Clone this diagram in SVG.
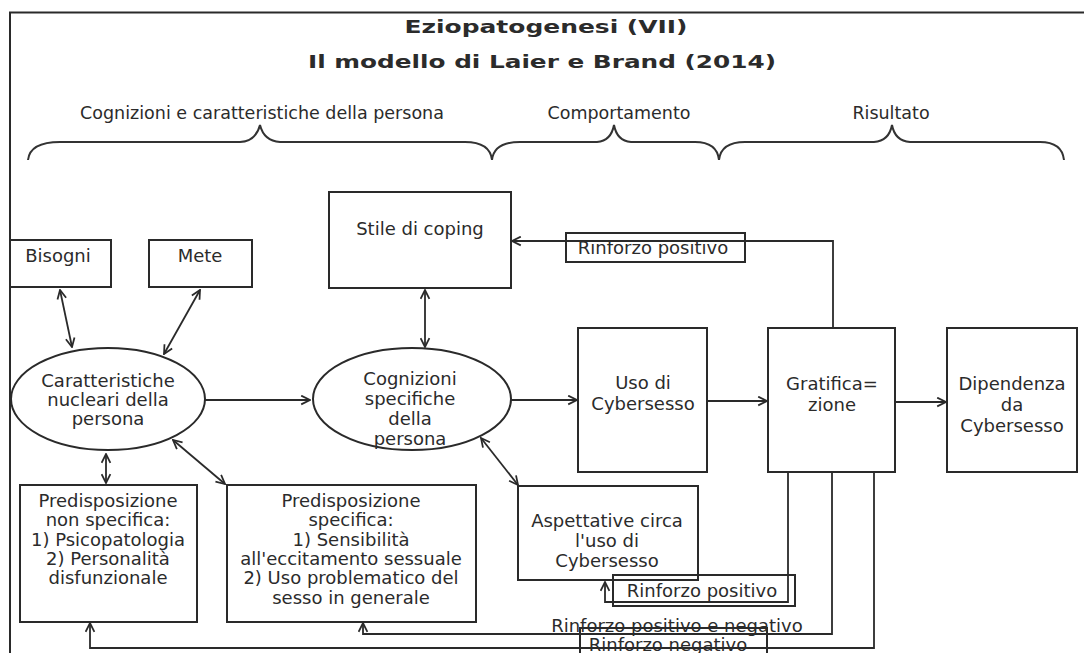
<svg xmlns="http://www.w3.org/2000/svg" width="1084" height="653" viewBox="0 0 1084 653">
<defs>
<style>
.t{font-family:"DejaVu Sans","Liberation Sans",sans-serif;fill:#2b2b2b;text-anchor:middle;font-size:18px}
.sec{font-size:17.5px}
.lab{font-size:18px}
.box{fill:#fff;stroke:#2a2a2a;stroke-width:2}
.lbox{fill:none;stroke:#2a2a2a;stroke-width:2}
.ln{fill:none;stroke:#2a2a2a;stroke-width:1.8}
.br{fill:none;stroke:#333;stroke-width:2}
</style>
<marker id="arr" viewBox="0 0 10 10" refX="9" refY="5" markerWidth="11" markerHeight="11" markerUnits="userSpaceOnUse" orient="auto-start-reverse">
<path d="M1,1 L9,5 L1,9" fill="none" stroke="#2a2a2a" stroke-width="1.6"/>
</marker>
</defs>
<rect width="1084" height="653" fill="#fff"/>
<g id="titles">
<text class="t" x="546" y="33" font-size="27" font-weight="bold" textLength="283" lengthAdjust="spacingAndGlyphs">Eziopatogenesi (VII)</text>
<text class="t" x="542" y="68" font-size="23" font-weight="bold" textLength="468" lengthAdjust="spacingAndGlyphs">Il modello di Laier e Brand (2014)</text>
<text class="t sec" x="262" y="119">Cognizioni e caratteristiche della persona</text>
<text class="t sec" x="619" y="119">Comportamento</text>
<text class="t sec" x="891" y="119">Risultato</text>
</g>
<g id="frame">
<rect x="0" y="0" width="1084" height="12" fill="#fff"/>
<path d="M1084,12.5 L10,12.5 L10,653" fill="none" stroke="#2a2a2a" stroke-width="2"/>
</g>
<g id="braces">
<path class="br" d="M28,160 Q30,142 60,142 L240,142 Q256,141 260,125 Q264,141 280,142 L465,142 Q490,142 492,160"/>
<path class="br" d="M492,160 Q494,142 520,142 L597,142 Q611,141 614,125 Q617,141 631,142 L695,142 Q717,142 719,160"/>
<path class="br" d="M719,160 Q721,142 745,142 L874,142 Q889,141 892,125 Q895,141 910,142 L1040,142 Q1062,142 1064,160"/>
</g>
<g id="connectors">
<line class="ln" x1="205" y1="400" x2="310" y2="400" marker-end="url(#arr)"/>
<line class="ln" x1="511" y1="400" x2="577" y2="400" marker-end="url(#arr)"/>
<line class="ln" x1="707" y1="401" x2="767" y2="401" marker-end="url(#arr)"/>
<line class="ln" x1="895" y1="402" x2="946" y2="402" marker-end="url(#arr)"/>
<line class="ln" x1="60" y1="290" x2="72" y2="347" marker-start="url(#arr)" marker-end="url(#arr)"/>
<line class="ln" x1="200" y1="290" x2="164" y2="354" marker-start="url(#arr)" marker-end="url(#arr)"/>
<line class="ln" x1="425" y1="290" x2="425" y2="347" marker-start="url(#arr)" marker-end="url(#arr)"/>
<line class="ln" x1="106" y1="454" x2="106" y2="483" stroke-width="3" marker-start="url(#arr)" marker-end="url(#arr)"/>
<line class="ln" x1="173" y1="440" x2="225" y2="484" marker-start="url(#arr)" marker-end="url(#arr)"/>
<line class="ln" x1="481" y1="438" x2="518" y2="485" marker-start="url(#arr)" marker-end="url(#arr)"/>
<path class="ln" d="M833,328 L833,241 L512,241" stroke-width="2.5" marker-end="url(#arr)"/>
<path class="ln" d="M788,472 L788,602 L605,602 L605,582" marker-end="url(#arr)"/>
<path class="ln" d="M832,472 L832,634 L363,634 L363,623" marker-end="url(#arr)"/>
<path class="ln" d="M874,472 L874,648 L90,648 L90,623" marker-end="url(#arr)"/>
</g>
<g id="n-bisogni">
<rect class="box" x="10" y="240" width="101" height="47"/>
<text class="t" x="58" y="262">Bisogni</text>
</g>
<g id="n-mete">
<rect class="box" x="149" y="240" width="103" height="47"/>
<text class="t" x="200" y="262">Mete</text>
</g>
<g id="n-stile">
<rect class="box" x="329" y="192" width="182" height="96"/>
<text class="t" x="420" y="235">Stile di coping</text>
</g>
<g id="n-caratteristiche">
<ellipse class="box" cx="108" cy="399" rx="97" ry="51"/>
<text class="t" x="108" y="387">Caratteristiche</text>
<text class="t" x="108" y="406">nucleari della</text>
<text class="t" x="108" y="425">persona</text>
</g>
<g id="n-cognizioni">
<ellipse class="box" cx="412" cy="399" rx="99" ry="51"/>
<text class="t" x="410" y="385">Cognizioni</text>
<text class="t" x="410" y="405">specifiche</text>
<text class="t" x="410" y="425">della</text>
<text class="t" x="410" y="445">persona</text>
</g>
<g id="n-uso">
<rect class="box" x="578" y="328" width="129" height="144"/>
<text class="t" x="643" y="389">Uso di</text>
<text class="t" x="643" y="410">Cybersesso</text>
</g>
<g id="n-gratificazione">
<rect class="box" x="768" y="328" width="127" height="144"/>
<text class="t" x="832" y="390">Gratifica=</text>
<text class="t" x="832" y="411">zione</text>
</g>
<g id="n-dipendenza">
<rect class="box" x="947" y="328" width="130" height="144"/>
<text class="t" x="1012" y="390">Dipendenza</text>
<text class="t" x="1012" y="411">da</text>
<text class="t" x="1012" y="432">Cybersesso</text>
</g>
<g id="n-pns">
<rect class="box" x="20" y="485" width="177" height="137"/>
<text class="t" x="108" y="507">Predisposizione</text>
<text class="t" x="108" y="526">non specifica:</text>
<text class="t" x="108" y="546">1) Psicopatologia</text>
<text class="t" x="108" y="565">2) Personalità</text>
<text class="t" x="108" y="584">disfunzionale</text>
</g>
<g id="n-ps">
<rect class="box" x="227" y="485" width="249" height="137"/>
<text class="t" x="351" y="507">Predisposizione</text>
<text class="t" x="351" y="526">specifica:</text>
<text class="t" x="351" y="546">1) Sensibilità</text>
<text class="t" x="351" y="565">all'eccitamento sessuale</text>
<text class="t" x="351" y="584">2) Uso problematico del</text>
<text class="t" x="351" y="604">sesso in generale</text>
</g>
<g id="n-aspettative">
<rect class="box" x="518" y="486" width="180" height="94"/>
<text class="t" x="607" y="527" font-size="17">Aspettative circa</text>
<text class="t" x="607" y="547" font-size="17">l'uso di</text>
<text class="t" x="607" y="567" font-size="17">Cybersesso</text>
</g>
<g id="labels">
<rect class="lbox" x="566" y="233" width="179" height="29"/>
<text class="t lab" x="653" y="254">Rinforzo positivo</text>
<rect class="lbox" x="613" y="575" width="182" height="31"/>
<text class="t lab" x="702" y="597">Rinforzo positivo</text>
<text class="t lab" x="677" y="632">Rinforzo positivo e negativo</text>
<rect class="lbox" x="580" y="628" width="187" height="30"/>
<text class="t lab" x="668" y="651">Rinforzo negativo</text>
</g>
</svg>
